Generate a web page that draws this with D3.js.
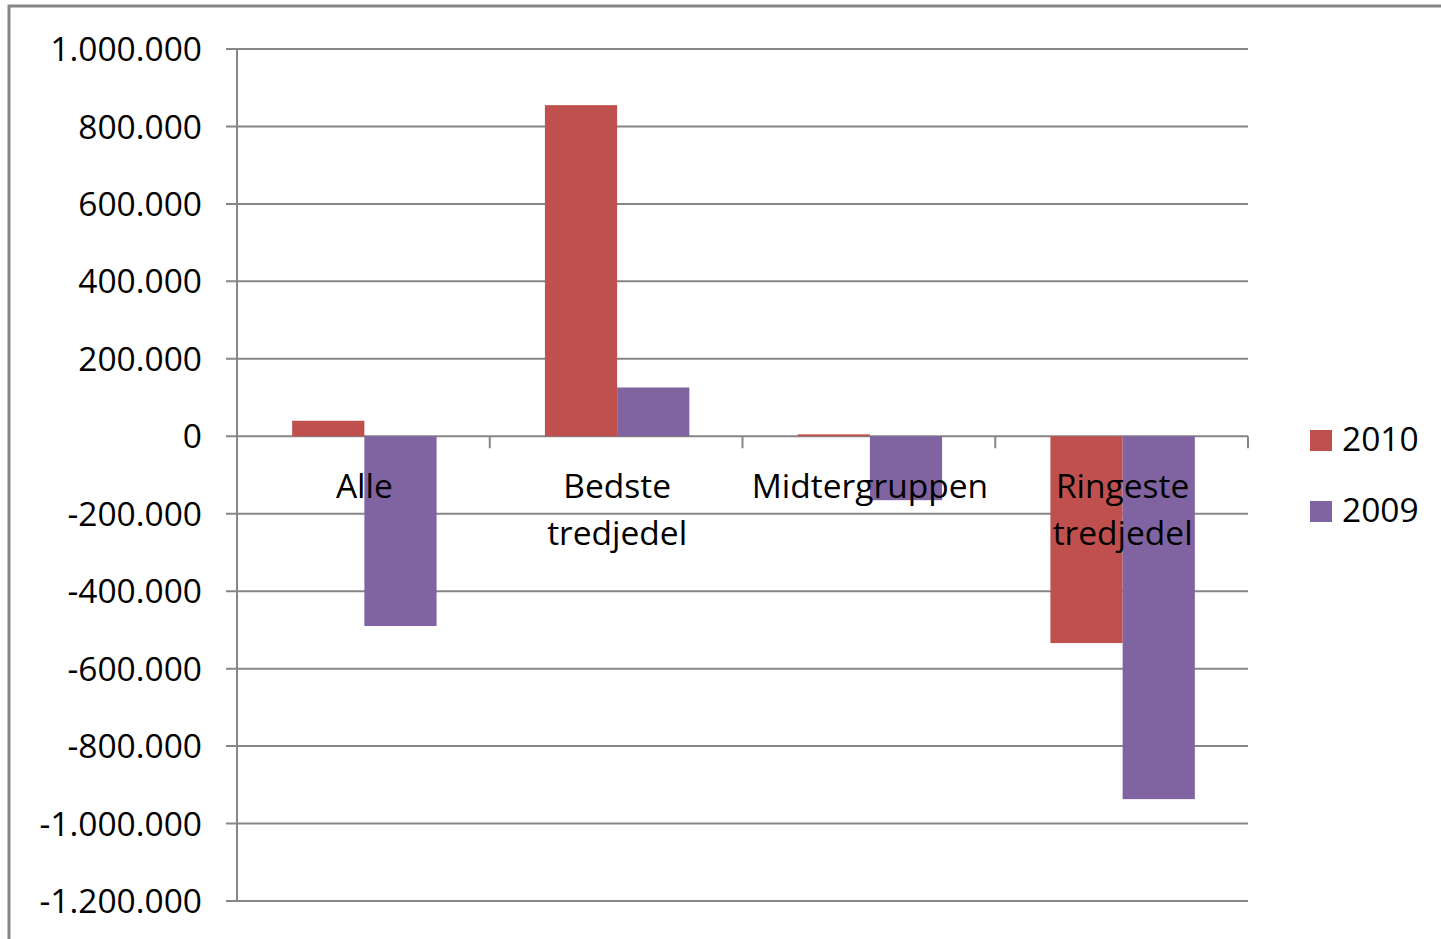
<!DOCTYPE html>
<html>
<head>
<meta charset="utf-8">
<script src="https://cdn.jsdelivr.net/npm/d3@7"></script>
<style>
  body { margin: 0; background: #fff; }
  svg text { font-family: "Open Sans", "Liberation Sans", sans-serif; fill: #000; }
</style>
</head>
<body>
<svg id="chart" width="1441" height="939"></svg>
<script>
// data
let categories = [["Alle"], ["Bedste", "tredjedel"], ["Midtergruppen"], ["Ringeste", "tredjedel"]];
let seriesNames = ["2010", "2009"];
let values2010 = [40000, 855000, 5000, -534000];
let values2009 = [-490000, 126000, -165000, -937000];
let yTicks = [1000000, 800000, 600000, 400000, 200000, 0, -200000, -400000, -600000, -800000, -1000000, -1200000];
let colors = ["#C0504D", "#8064A2"];

let svg = d3.select("#chart");
let gridColor = "#868686";
let fontSize = 33.5;

// outer frame
svg.append("rect")
    .attr("x", 9).attr("y", 6)
    .attr("width", 1500).attr("height", 1000)
    .attr("fill", "none")
    .attr("stroke", gridColor)
    .attr("stroke-width", 3);

let plot = {left: 237, right: 1248, top: 49, bottom: 901};

let y = d3.scaleLinear()
    .domain([-1200000, 1000000])
    .range([plot.bottom, plot.top]);

let x = d3.scaleBand()
    .domain(categories.map((c, i) => i))
    .range([plot.left, plot.right])
    .padding(0);

// gap width 150% like excel: band = 3.5 bar widths
let barW = x.bandwidth() / 3.5;
let xs = d3.scaleBand()
    .domain(seriesNames)
    .range([barW * 0.75 + 1, barW * 2.75 + 1]);

let fmt = v => d3.format(",")(v).replace(/,/g, ".").replace("−", "-");

// gridlines + tick marks
svg.append("g").selectAll("line")
    .data(yTicks).enter()
    .append("line")
    .attr("x1", plot.left - 11)
    .attr("x2", plot.right)
    .attr("y1", d => y(d))
    .attr("y2", d => y(d))
    .attr("stroke", gridColor)
    .attr("stroke-width", 2);

svg.append("g").selectAll("text")
    .data(yTicks).enter()
    .append("text")
    .attr("x", 202)
    .attr("y", d => y(d))
    .attr("dy", "0.36em")
    .attr("text-anchor", "end")
    .style("font-size", fontSize + "px")
    .text(fmt);

// y axis line
svg.append("line")
    .attr("x1", plot.left).attr("x2", plot.left)
    .attr("y1", plot.top).attr("y2", plot.bottom)
    .attr("stroke", gridColor).attr("stroke-width", 2);

// bars
let rows = categories.map((c, i) => ({i: i, vals: [values2010[i], values2009[i]]}));

let groups = svg.append("g").selectAll("g.barGroup")
    .data(rows).enter()
    .append("g")
    .classed("barGroup", true)
    .attr("transform", d => "translate(" + x(d.i) + ",0)");

groups.selectAll("rect")
    .data(d => d.vals.map((v, k) => ({name: seriesNames[k], value: v, k: k})))
    .enter()
    .append("rect")
    .attr("x", d => xs(d.name))
    .attr("width", xs.bandwidth())
    .attr("y", d => y(Math.max(0, d.value)))
    .attr("height", d => Math.abs(y(d.value) - y(0)))
    .attr("fill", d => colors[d.k]);

// x axis tick marks at category borders
let borders = categories.map((c, i) => x(i)).concat([plot.right]);
svg.append("g").selectAll("line")
    .data(borders).enter()
    .append("line")
    .attr("x1", d => d).attr("x2", d => d)
    .attr("y1", y(0)).attr("y2", y(0) + 12)
    .attr("stroke", gridColor).attr("stroke-width", 2);

// category labels, drawn over bars
let labels = svg.append("g").selectAll("text")
    .data(categories).enter()
    .append("text")
    .attr("x", (d, i) => x(i) + x.bandwidth() / 2 + 1)
    .attr("y", 498)
    .attr("text-anchor", "middle")
    .style("font-size", fontSize + "px");

labels.selectAll("tspan")
    .data(d => d).enter()
    .append("tspan")
    .attr("x", function () { return d3.select(this.parentNode).attr("x"); })
    .attr("dy", (d, j) => j === 0 ? 0 : 47)
    .text(d => d);

// legend
let legend = svg.append("g").selectAll("g")
    .data(seriesNames).enter()
    .append("g")
    .attr("transform", (d, i) => "translate(1310," + (430 + i * 71) + ")");

legend.append("rect")
    .attr("width", 22).attr("height", 21)
    .attr("fill", (d, i) => colors[i]);

legend.append("text")
    .attr("x", 32)
    .attr("y", 21)
    .style("font-size", fontSize + "px")
    .text(d => d);
</script>
</body>
</html>
